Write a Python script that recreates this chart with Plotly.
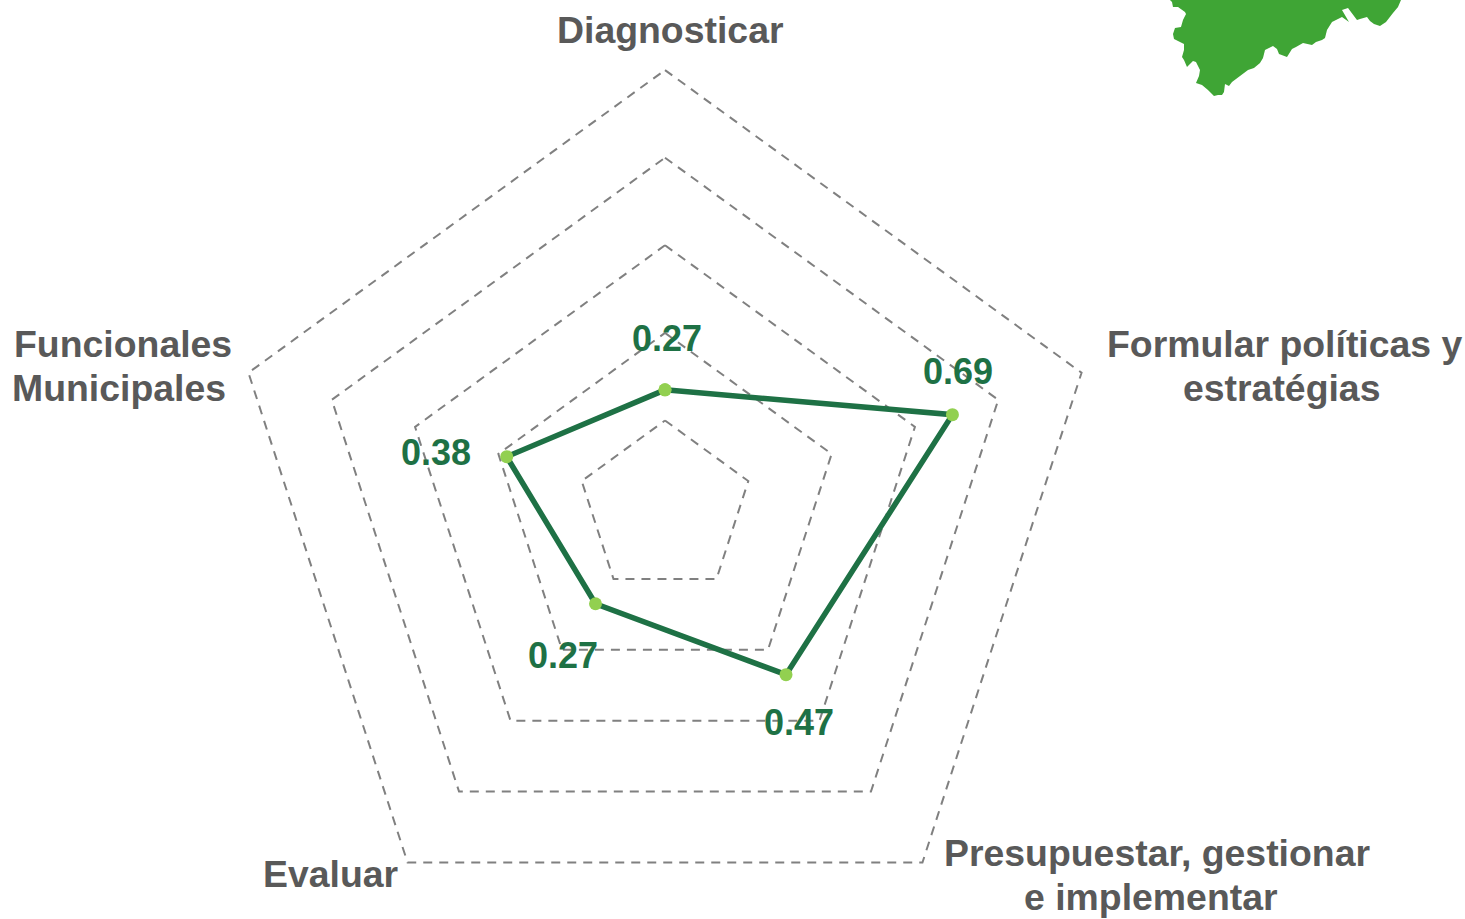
import plotly.graph_objects as go

W, H = 1465, 919

categories = ["Diagnosticar", "Formular políticas y estratégias",
              "Presupuestar, gestionar e implementar", "Evaluar", "Funcionales Municipales"]
values = [0.27, 0.69, 0.47, 0.27, 0.38]
value_labels = ["0.27", "0.69", "0.47", "0.27", "0.38"]
value_label_x = [667, 958, 799, 563, 436]
value_label_y = [339, 371, 722, 655, 453]
ring_levels = [0.2, 0.4, 0.6, 0.8, 1.0]

label_lines = ["Diagnosticar", "Formular políticas y", "estratégias",
               "Presupuestar, gestionar", "e implementar", "Evaluar",
               "Funcionales", "Municipales"]
label_x = [670, 1285, 1281, 1157, 1151, 330, 123, 119]
label_y = [30, 344, 388, 853, 897, 874, 344, 388]

map_x = [1170, 1172, 1173, 1178, 1185, 1186, 1183, 1181, 1175, 1173, 1174, 1184, 1184, 1182, 1184, 1187,
         1193, 1196, 1200, 1199, 1196, 1202, 1208, 1214, 1218, 1222, 1224, 1225, 1229, 1232, 1240, 1248,
         1254, 1260, 1263, 1265, 1273, 1277, 1279, 1287, 1292, 1296, 1303, 1312, 1316, 1322, 1325, 1327,
         1332, 1338, 1342, 1349, 1342, 1348, 1351, 1357, 1360, 1367, 1370, 1374, 1380, 1386, 1393, 1398, 1401]
map_y = [0, 2, 7, 7, 12, 14, 20, 27, 28, 34, 39, 44, 50, 57, 60, 67,
         61, 62, 70, 76, 83, 85, 90, 96, 95, 95, 92, 84, 86, 82, 76, 70,
         68, 63, 58, 50, 46, 49, 54, 57, 49, 47, 43, 45, 42, 40, 38, 30,
         22, 19, 17, 22, 10, 8, 12, 20, 19, 17, 21, 24, 26, 22, 13, 7, 0]

GRID = "#808080"
LINE = "#1E7145"
DOT = "#92D050"
TEXT = "#595959"
DASH = "9px,7px"
FONT = "Liberation Sans"

# The bottom wedge of the disc is left out of the sector so that the plot fits the page height.
sector = [-55, 235]
dom_x = [227, 1103]
dom_y = [70, 867]

def closed(seq):
    return list(seq) + [seq[0]]

fig = go.Figure()
for level in ring_levels:
    fig.add_trace(go.Scatterpolar(
        r=closed([level] * len(categories)), theta=closed(categories), mode="lines", cliponaxis=False,
        line=dict(color=GRID, width=2, dash=DASH), hoverinfo="skip", showlegend=False))
fig.add_trace(go.Scatterpolar(
    r=closed(values), theta=closed(categories), mode="lines+markers", cliponaxis=False,
    line=dict(color=LINE, width=5.5),
    marker=dict(color=DOT, size=13), showlegend=False))

annotations = []
for t, x, y in zip(label_lines, label_x, label_y):
    annotations.append(dict(text="<b>" + t + "</b>", x=x / W, y=1 - y / H, xref="paper", yref="paper",
                            showarrow=False, xanchor="center", yanchor="middle",
                            font=dict(family=FONT, size=37.4, color=TEXT)))
for t, x, y in zip(value_labels, value_label_x, value_label_y):
    annotations.append(dict(text="<b>" + t + "</b>", x=x / W, y=1 - y / H, xref="paper", yref="paper",
                            showarrow=False, xanchor="center", yanchor="middle",
                            font=dict(family=FONT, size=36, color=LINE)))

path = "M " + " L ".join(f"{x / W:.5f},{1 - y / H:.5f}" for x, y in zip(map_x, map_y)) + " Z"

fig.update_layout(
    width=W, height=H,
    margin=dict(l=0, r=0, t=0, b=0),
    paper_bgcolor="white", plot_bgcolor="white",
    showlegend=False,
    annotations=annotations,
    shapes=[dict(type="path", path=path, xref="paper", yref="paper",
                 fillcolor="#3FA535", line=dict(width=0), layer="below")],
    polar=dict(
        domain=dict(x=[dom_x[0] / W, dom_x[1] / W], y=[1 - dom_y[1] / H, 1 - dom_y[0] / H]),
        bgcolor="rgba(0,0,0,0)",
        sector=sector,
        gridshape="linear",
        angularaxis=dict(type="category", direction="clockwise", rotation=90,
                         categoryorder="array", categoryarray=categories,
                         showgrid=False, showline=False, showticklabels=False, ticks=""),
        radialaxis=dict(range=[0, 1], showgrid=False, showline=False,
                        showticklabels=False, ticks=""),
    ),
)

post = """
document.body.style.margin = '0';
document.body.style.overflow = 'hidden';
document.querySelectorAll('.js-plotly-plot .polarlayer [clip-path]').forEach(function (el) {
    el.removeAttribute('clip-path');
});
document.querySelectorAll('.js-plotly-plot .polarlayer *').forEach(function (el) {
    if (el.style && el.style.clipPath) { el.style.clipPath = 'none'; }
});
"""
fig.write_html("out.html", post_script=post, config={"displayModeBar": False})
